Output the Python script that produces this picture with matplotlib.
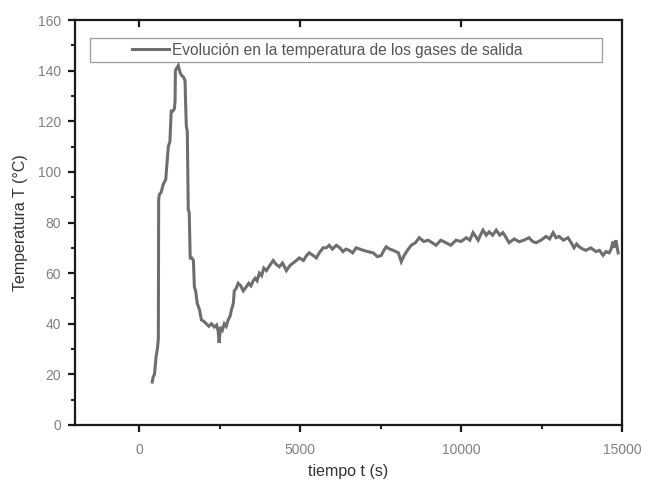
import matplotlib
matplotlib.use("Agg")
import matplotlib.pyplot as plt
from matplotlib.ticker import MultipleLocator
from matplotlib.patches import Rectangle

# Data
time_s = [400, 430, 470, 520, 560, 590, 600, 620, 680, 740, 780, 820, 870, 900,
          950, 990, 1040, 1090, 1110, 1120, 1160, 1210, 1270, 1320, 1370, 1420,
          1440, 1460, 1490, 1520, 1550, 1580, 1630, 1680, 1710, 1750, 1800, 1870,
          1930, 2000, 2080, 2160, 2240, 2330, 2400, 2450, 2480, 2520, 2580, 2640,
          2700, 2760, 2820, 2860, 2920, 2950, 3010, 3070, 3150, 3230, 3320, 3400,
          3470, 3540, 3600, 3660, 3730, 3800, 3870, 3950, 4050, 4160, 4250, 4350,
          4450, 4570, 4680, 4780, 4880, 4970, 5100, 5200, 5280, 5400, 5500, 5590,
          5710, 5810, 5900, 6000, 6120, 6230, 6330, 6420, 6520, 6630, 6740, 6850,
          6960, 7100, 7270, 7400, 7520, 7600, 7670, 7780, 7890, 7970, 8050, 8140,
          8230, 8330, 8450, 8580, 8700, 8840, 8980, 9100, 9220, 9370, 9530, 9680,
          9840, 10000, 10160, 10270, 10370, 10450, 10530, 10600, 10680, 10780,
          10870, 10980, 11090, 11200, 11300, 11400, 11490, 11650, 11800, 11950,
          12110, 12220, 12330, 12480, 12640, 12750, 12860, 12950, 13050, 13180,
          13320, 13420, 13510, 13590, 13670, 13780, 13880, 14030, 14190, 14300,
          14410, 14500, 14600, 14660, 14720, 14770, 14810, 14850, 14880]
temp_c = [17, 19, 20, 27, 30, 34, 89, 91, 92, 95, 96, 97, 105, 110,
          112, 124, 124, 125, 128, 140, 141, 142, 139, 138, 137.5, 136,
          126, 118, 116, 85, 84, 66, 66, 65, 54.5, 53, 48, 45.5,
          41.5, 41, 40, 39, 40, 38.7, 39.5, 37, 32.4, 38.7, 37.5, 40,
          39, 41.5, 43, 45.4, 48, 53, 54, 56, 55, 53, 54.5, 56,
          55, 57, 58, 57, 60, 59, 62, 61, 63, 65, 63.5, 62.5,
          64, 61, 63, 64, 65, 66, 65, 67, 68, 67, 66, 68,
          70, 70, 71, 69.5, 71, 70, 68.5, 69.5, 69, 68, 70, 69.5,
          69, 68.5, 68, 66.5, 67, 69, 70.4, 69.5, 69, 68.5, 68, 64.5,
          67, 69, 71, 72, 74, 72.5, 73, 72, 71, 73, 72, 71,
          73, 72.5, 74, 73, 76, 74.5, 73, 75, 77, 75,
          76.3, 75, 77, 75, 76, 74, 72, 73.5, 72.4, 73,
          74, 72.5, 72, 73, 74.5, 73.5, 76, 74, 74.5, 73,
          74, 72, 70, 71.5, 70.4, 69.5, 69, 70, 68.5, 69,
          67, 68.5, 68, 69.5, 72.5, 70, 73, 70, 68]

x_ticks = [0, 5000, 10000, 15000]
y_ticks = [0, 20, 40, 60, 80, 100, 120, 140, 160]
legend_label = "Evolución en la temperatura de los gases de salida"

plt.rcParams['font.family'] = ['Liberation Sans', 'DejaVu Sans']

fig = plt.figure(figsize=(6.48, 4.84), dpi=100)
ax = fig.add_axes([75 / 648, 1 - 425 / 484, 547 / 648, 405 / 484])

line_color = "#6e6e6e"
ln, = ax.plot(time_s, temp_c, color=line_color, lw=2.2, solid_joinstyle='miter')

ax.set_xlim(-2000, 15000)
ax.set_ylim(0, 160)
ax.set_xticks(x_ticks)
ax.set_yticks(y_ticks)
ax.xaxis.set_minor_locator(MultipleLocator(2500))
ax.yaxis.set_minor_locator(MultipleLocator(10))

for s in ax.spines.values():
    s.set_linewidth(1.6)
    s.set_color("#1a1a1a")

ax.tick_params(axis='both', which='major', direction='out', length=5, width=1.6,
               color="#1a1a1a", labelsize=10, labelcolor="#808080", pad=5)
ax.tick_params(axis='both', which='minor', direction='out', length=3, width=1.4,
               color="#1a1a1a")
ax.tick_params(axis='x', which='major', pad=8)

ax.set_xlabel("tiempo t (s)", fontsize=11.5, color="#333333", labelpad=5)
ax.set_ylabel("Temperatura T (°C)", fontsize=11.5, color="#333333", labelpad=7)

# inward ticks on the top spine
for xt in x_ticks[:-1]:
    ax.plot([xt, xt], [160, 157.5], color="#1a1a1a", lw=1.6, clip_on=False)

# Legend box
rect = Rectangle((15 / 547, (425 - 62) / 405), (602 - 90) / 547, 24 / 405,
                 transform=ax.transAxes, fill=False, edgecolor="#9a9a9a", lw=0.9)
ax.add_patch(rect)
leg = ax.legend([ln], [legend_label], loc='center left',
                bbox_to_anchor=((132 - 75) / 547, (425 - 50) / 405),
                frameon=False, fontsize=11.2, handlelength=2.4, handletextpad=0.2,
                borderpad=0, borderaxespad=0, labelcolor="#555555")

fig.savefig("out.png", dpi=100)
